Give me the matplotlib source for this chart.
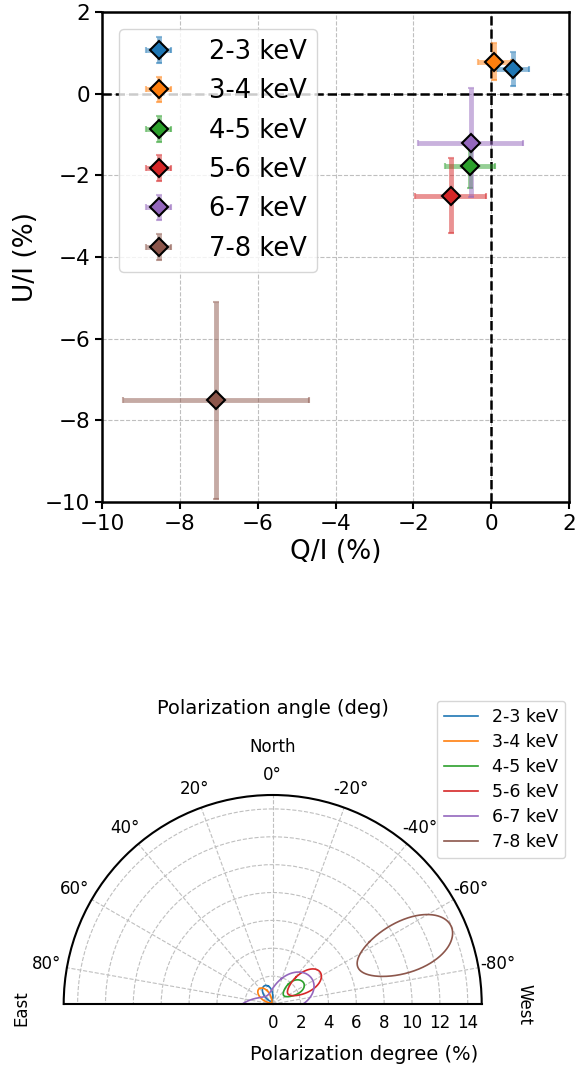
import numpy as np
import matplotlib
matplotlib.use('Agg')
import matplotlib.pyplot as plt
from matplotlib.colors import to_rgba

# --- data ---
bins = ['2-3 keV', '3-4 keV', '4-5 keV', '5-6 keV', '6-7 keV', '7-8 keV']
colors = ['tab:blue', 'tab:orange', 'tab:green', 'tab:red', 'tab:purple', 'tab:brown']
q_val = [0.55, 0.08, -0.54, -1.04, -0.53, -7.07]
u_val = [0.60, 0.78, -1.76, -2.50, -1.20, -7.51]
q_err = [0.41, 0.43, 0.64, 0.92, 1.35, 2.40]
u_err = [0.41, 0.45, 0.55, 0.92, 1.34, 2.42]

# 68% contour for 2 dof
k_cont = np.sqrt(2.30)

fig = plt.figure(figsize=(5.77, 10.7), dpi=100)

# --- Q/U panel ---
ax = fig.add_axes([102/577, 1-502/1070, 467/577, 490/1070])
ax.axhline(0, color='k', ls='--', lw=1.8, zorder=1.5)
ax.axvline(0, color='k', ls='--', lw=1.8, zorder=1.5)
for i in range(len(bins)):
    ax.errorbar(q_val[i], u_val[i], xerr=q_err[i], yerr=u_err[i], fmt='D',
                color=colors[i], ecolor=to_rgba(colors[i], 0.5), ms=9, mec='k', mew=1.5,
                elinewidth=3.5, capsize=2, capthick=1.5, label=bins[i], zorder=3)
ax.set_xlim(-10, 2)
ax.set_ylim(-10, 2)
ax.set_xticks(np.arange(-10, 3, 2))
ax.set_yticks(np.arange(-10, 3, 2))
ax.grid(True, ls='--', color='0.75', lw=0.8)
ax.set_axisbelow(True)
ax.tick_params(labelsize=15.5, width=1.5, length=5)
for s in ax.spines.values():
    s.set_linewidth(1.8)
ax.set_xlabel('Q/I (%)', fontsize=19)
ax.set_ylabel('U/I (%)', fontsize=19)
ax.legend(loc='upper left', fontsize=18.5, handlelength=2.3, borderaxespad=0.65,
          labelspacing=0.52)

# --- polar panel (square box, the half disc sits in its middle) ---
pax = fig.add_axes([63.7/577, -38.5/1070, 418/577, 418/1070], projection='polar')
pax.set_theta_zero_location('N')
pax.set_thetamin(-90)
pax.set_thetamax(90)
for i in range(len(bins)):
    t = np.linspace(0, 2*np.pi, 600)
    qq = q_val[i] + k_cont*q_err[i]*np.cos(t)
    uu = u_val[i] + k_cont*u_err[i]*np.sin(t)
    pd_c = np.hypot(qq, uu)
    pa_c = 0.5*np.arctan2(uu, qq)
    # break the line where the angle wraps from -90 to +90
    jump = np.where(np.abs(np.diff(pa_c)) > np.pi/2)[0]
    pa_c = np.insert(pa_c, jump+1, np.nan)
    pd_c = np.insert(pd_c, jump+1, np.nan)
    pax.plot(pa_c, pd_c, color=colors[i], lw=1.2, label=bins[i])
pax.set_rlim(0, 15)
pax.set_thetagrids(np.arange(-80, 81, 20))
pax.set_rgrids(np.arange(0, 15, 2))
pax.grid(True, ls='--', color='0.75', lw=0.8)
pax.tick_params(labelsize=12)
pax.tick_params(axis='x', pad=4)
for s in pax.spines.values():
    s.set_linewidth(1.5)

fig.text(273/577, 1-714/1070, 'Polarization angle (deg)', ha='center', va='baseline', fontsize=14)
fig.text(273/577, 1-751.7/1070, 'North', ha='center', va='baseline', fontsize=12)
fig.text(21/577, 1-1008/1070, 'East', ha='center', va='center', rotation=90, fontsize=12)
fig.text(524/577, 1-1005/1070, 'West', ha='center', va='center', rotation=-90, fontsize=12)
fig.text(364.6/577, 1-1060/1070, 'Polarization degree (%)', ha='center', va='baseline', fontsize=14)
fig.legend(*pax.get_legend_handles_labels(), loc='upper left',
           bbox_to_anchor=(436.7/577, 1-700.7/1070), borderaxespad=0, fontsize=12.5,
           labelspacing=0.41)

fig.savefig('out.png', dpi=100)
